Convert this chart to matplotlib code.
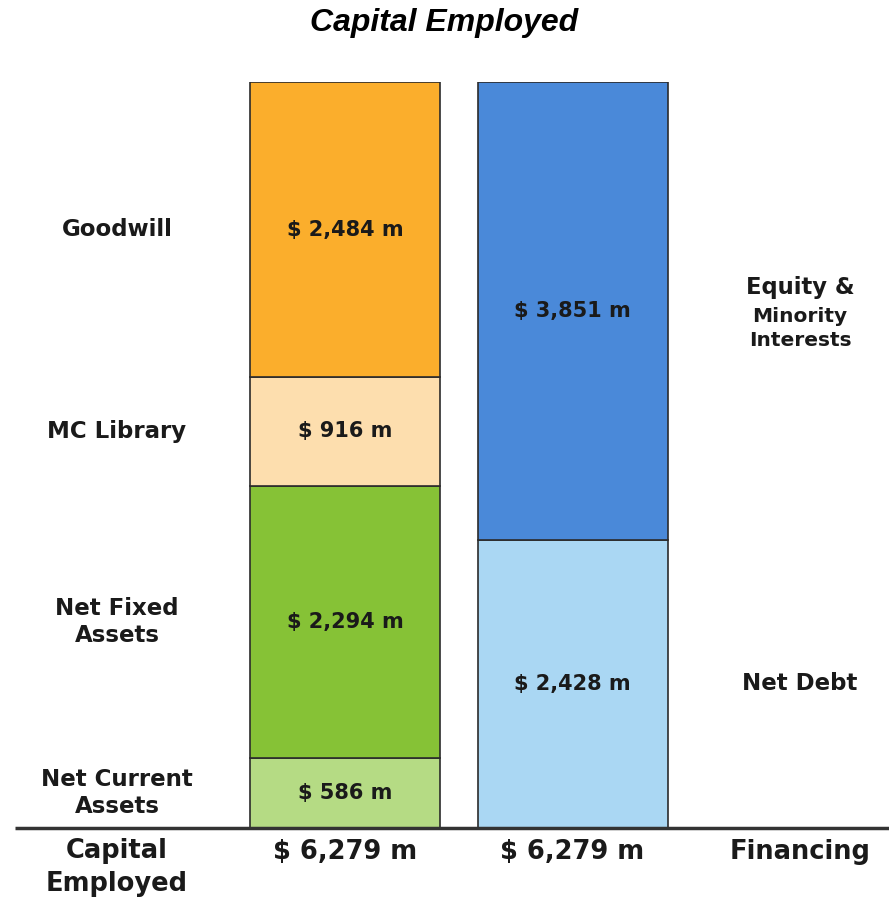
import matplotlib.pyplot as plt

# left bar: capital employed (bottom -> top)
asset_names = ["Net Current\nAssets", "Net Fixed\nAssets", "MC Library", "Goodwill"]
asset_values = [586, 2294, 916, 2484]
asset_colors = ["#B5DB84", "#86C236", "#FDDEAE", "#FBAE2C"]

# right bar: financing (bottom -> top)
fin_names = ["Net Debt", "Equity &\nMinority\nInterests"]
fin_values = [2428, 3851]
fin_colors = ["#AAD7F3", "#4A89D9"]

bottom_labels = ["Capital\nEmployed", "$ 6,279 m", "$ 6,279 m", "Financing"]

W, H = 889, 906
fig = plt.figure(figsize=(W / 100, H / 100), dpi=100)
total = sum(asset_values)
ax = fig.add_axes([0, 78 / H, 1, 746 / H])
ax.set_xlim(0, W)
ax.set_ylim(0, total)
ax.axis("off")

bold = dict(family="DejaVu Sans", fontweight="bold", color="#1a1a1a")


def fmt(v):
    return "$ {:,} m".format(v)


def stack(xc, values, colors, names, label_x):
    base = 0
    for v, c, n in zip(values, colors, names):
        ax.bar(xc, v, width=190, bottom=base, color=c, edgecolor="#2b2b2b", linewidth=1.2)
        mid = base + v / 2
        ax.text(xc, mid, fmt(v), ha="center", va="center", fontsize=15, **bold)
        if "Minority" in n:
            lines = n.split("\n")
            # first line larger, the rest smaller, stacked tightly
            for txt, dy, fs in zip(lines, [17, -4, -21], [16.3, 14.5, 14.5]):
                ax.annotate(txt, (label_x, mid), xytext=(0, dy), textcoords="offset points",
                            ha="center", va="center", fontsize=fs, **bold)
        else:
            ax.text(label_x, mid, n, ha="center", va="center", fontsize=16.5,
                    linespacing=1.2, **bold)
        base += v


stack(345, asset_values, asset_colors, asset_names, 117)
stack(572.5, fin_values, fin_colors, fin_names, 800)

ax.plot([15, W], [0, 0], color="#333333", linewidth=2.5, solid_capstyle="butt", clip_on=False)

# bottom row: two-line label on the left, totals and "Financing" on one line
for txt, dy in zip(bottom_labels[0].split("\n"), [-16.5, -40]):
    ax.annotate(txt, (117, 0), xytext=(0, dy), textcoords="offset points",
                ha="center", va="center", fontsize=18.5, **bold)
for x, lab in zip([345, 572.5, 800], bottom_labels[1:]):
    ax.annotate(lab, (x, 0), xytext=(0, -17.5), textcoords="offset points",
                ha="center", va="center", fontsize=18.5, **bold)

fig.text(0.5, 1 - 23 / H, "Capital Employed", ha="center", va="center",
         family="Liberation Sans", fontsize=23, fontweight="bold", style="italic")

fig.savefig("out.png", dpi=100, facecolor="white")
